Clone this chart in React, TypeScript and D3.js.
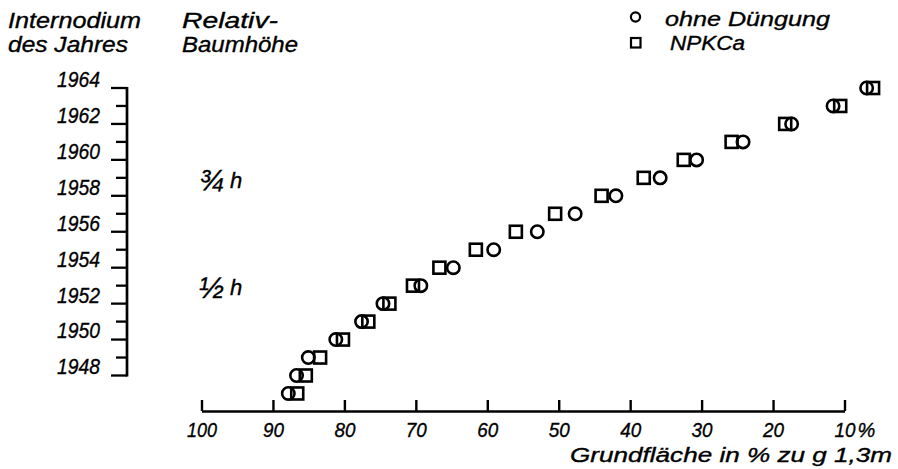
import React, { useEffect, useRef } from "react";
import * as d3 from "d3";

// internode year of each measured whorl (rows of points, bottom to top)
const years = [1947, 1948, 1949, 1950, 1951, 1952, 1953, 1954, 1955, 1956, 1957, 1958, 1959, 1960, 1961, 1962, 1963, 1964];
// Grundfläche in % zu g 1,3m
const ohneDuengung = [87.85, 86.7, 85.05, 81.2, 77.6, 74.6, 69.3, 64.75, 59.1, 53.0, 47.7, 42.0, 35.8, 30.7, 24.2, 17.4, 11.6, 6.9];
const npkca = [86.6, 85.4, 83.4, 80.2, 76.65, 73.7, 70.4, 66.7, 61.6, 56.0, 50.5, 44.0, 38.1, 32.5, 25.8, 18.3, 10.6, 6.0];

const xTicks = [100, 90, 80, 70, 60, 50, 40, 30, 20, 10];
const yearTicks = [1948, 1949, 1950, 1951, 1952, 1953, 1954, 1955, 1956, 1957, 1958, 1959, 1960, 1961, 1962, 1963, 1964];
const yearLabels = [1948, 1950, 1952, 1954, 1956, 1958, 1960, 1962, 1964];
const heightFractions = ["¾", "½"];
const heightYears = [1958, 1952];

const FONT = "'Liberation Sans', Arial, sans-serif";

export default function App() {
  const ref = useRef<SVGSVGElement>(null);

  useEffect(() => {
    const svg = d3.select(ref.current);
    svg.selectAll("*").remove();

    const x = d3.scaleLinear().domain([100, 10]).range([201.5, 844.5]);
    const y = d3.scaleLinear().domain([1948, 1964]).range([375.5, 88]);

    // slight stroke on text to mimic the drawn lettering
    const g = svg.append("g")
      .style("font-family", FONT)
      .style("font-style", "italic")
      .attr("fill", "#000")
      .attr("stroke", "#000")
      .attr("stroke-width", 0.35);

    // x axis, ticks pointing up, labels below
    const xAxis = d3.axisBottom(x).tickValues(xTicks).tickSizeInner(-11).tickSizeOuter(0)
      .tickFormat((d) => String(d));
    const gx = g.append("g").attr("transform", "translate(0,411)").call(xAxis);
    gx.select(".domain").attr("stroke", "#000").attr("stroke-width", 2.4);
    gx.selectAll(".tick line").attr("stroke", "#000").attr("stroke-width", 2.4);
    gx.selectAll(".tick text")
      .attr("y", 26).attr("dy", null)
      .attr("fill", "#000")
      .attr("textLength", (d) => (d === 100 ? 30 : 21))
      .attr("lengthAdjust", "spacingAndGlyphs")
      .style("font-size", "21px")
      .style("font-family", FONT);
    g.append("text")
      .attr("x", x(10) + 13).attr("y", 437)
      .style("font-size", "20px")
      .text("%");

    g.append("text")
      .attr("x", 892).attr("y", 462)
      .attr("text-anchor", "end")
      .attr("textLength", 322).attr("lengthAdjust", "spacingAndGlyphs")
      .style("font-size", "20px")
      .text("Grundfläche in % zu g 1,3m");

    // y axis: yearly internodes
    const axisX = 127;
    g.append("line")
      .attr("x1", axisX).attr("x2", axisX)
      .attr("y1", y(1964) - 1).attr("y2", y(1948) + 1)
      .attr("stroke", "#000").attr("stroke-width", 2.7);
    g.selectAll(".ytick").data(yearTicks).enter().append("line")
      .attr("class", "ytick")
      .attr("x1", (d) => (d % 2 === 0 ? axisX - 16 : axisX - 11))
      .attr("x2", axisX)
      .attr("y1", (d) => y(d)).attr("y2", (d) => y(d))
      .attr("stroke", "#000").attr("stroke-width", 2.3);
    g.selectAll(".ylabel").data(yearLabels).enter().append("text")
      .attr("class", "ylabel")
      .attr("x", 100)
      .attr("y", (d) => y(d + 0.5))
      .attr("dy", "0.36em")
      .attr("text-anchor", "end")
      .attr("textLength", 43).attr("lengthAdjust", "spacingAndGlyphs")
      .style("font-size", "22px")
      .text((d) => d);

    // relative tree height marks
    const hl = g.selectAll(".hlabel").data(heightFractions).enter().append("text")
      .attr("class", "hlabel")
      .attr("x", 199)
      .attr("y", (d, i) => y(heightYears[i] + 0.5))
      .attr("dy", "0.36em")
      .style("font-size", "22px");
    hl.append("tspan").style("font-size", "30px").attr("dy", "0.1em").text((d) => d);
    hl.append("tspan").attr("dx", 6).attr("dy", "-0.1em").text("h");

    // header texts
    const header = [
      { t: "Internodium", x: 8, y: 28, w: 133 },
      { t: "des Jahres", x: 8, y: 52, w: 120 },
      { t: "Relativ-", x: 182, y: 28, w: 96 },
      { t: "Baumhöhe", x: 182, y: 52, w: 116 },
    ];
    g.selectAll(".head").data(header).enter().append("text")
      .attr("class", "head")
      .attr("x", (d) => d.x).attr("y", (d) => d.y)
      .attr("textLength", (d) => d.w).attr("lengthAdjust", "spacingAndGlyphs")
      .style("font-size", "22px")
      .text((d) => d.t);

    // points
    const pts = g.append("g").attr("fill", "none").attr("stroke", "#000").attr("stroke-width", 2.6);
    const side = 12;
    pts.selectAll(".sq").data(years).enter().append("rect")
      .attr("class", "sq")
      .attr("x", (d, i) => x(npkca[i]) - side / 2)
      .attr("y", (d) => y(d) - side / 2)
      .attr("width", side).attr("height", side);
    pts.selectAll(".ci").data(years).enter().append("circle")
      .attr("class", "ci")
      .attr("cx", (d, i) => x(ohneDuengung[i]))
      .attr("cy", (d) => y(d))
      .attr("r", 6.2);

    // legend
    const legend = g.append("g");
    legend.append("circle").attr("cx", 635.5).attr("cy", 17).attr("r", 4.6)
      .attr("fill", "none").attr("stroke", "#000").attr("stroke-width", 2.2);
    legend.append("rect").attr("x", 631).attr("y", 38).attr("width", 9.5).attr("height", 9.5)
      .attr("fill", "none").attr("stroke", "#000").attr("stroke-width", 2.2);
    legend.append("text").attr("x", 665).attr("y", 26)
      .attr("textLength", 165).attr("lengthAdjust", "spacingAndGlyphs")
      .style("font-size", "21px").text("ohne Düngung");
    legend.append("text").attr("x", 670).attr("y", 50)
      .attr("textLength", 75).attr("lengthAdjust", "spacingAndGlyphs")
      .style("font-size", "21px").text("NPKCa");
  }, []);

  return (
    <svg
      ref={ref}
      width={898}
      height={469}
      style={{ position: "absolute", left: 0, top: 0, background: "#fff" }}
    />
  );
}
